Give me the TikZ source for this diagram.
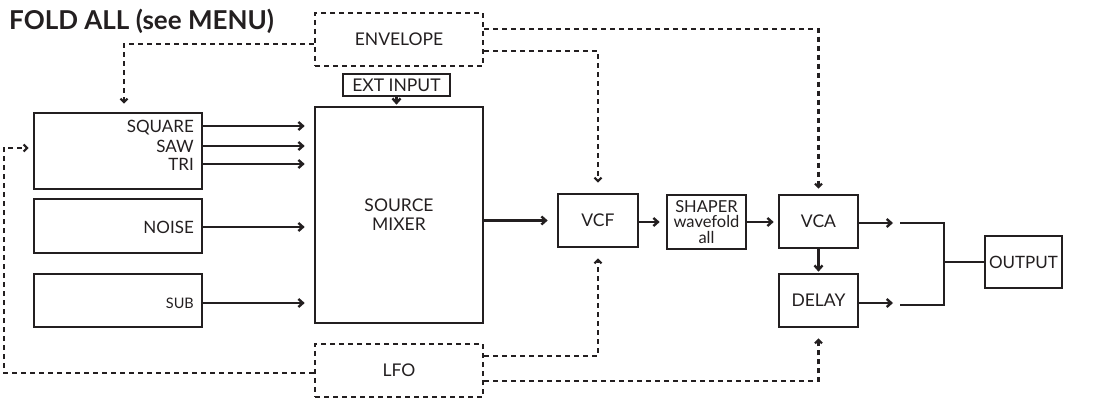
\documentclass[tikz,border=0pt]{standalone}
\usepackage{fontspec}
\setmainfont{Lato}
\usetikzlibrary{arrows.meta}
\definecolor{ink}{HTML}{231F20}
\begin{document}
\begin{tikzpicture}[x=1pt,y=-1pt,
  blk/.style={draw=ink, line width=2.6pt, inner sep=0pt, align=center, text=ink,
    font=\fontsize{17.5}{19}\selectfont},
  dblk/.style={blk, dash pattern=on 5pt off 4pt, line width=2.2pt},
  lbl/.style={inner sep=0pt, text=ink, font=\fontsize{17}{18}\selectfont, text depth=0pt},
  arr/.style={draw=ink, line width=2.4pt, -{Straight Barb[length=4.5pt,width=8pt]}},
  darr/.style={draw=ink, line width=2.2pt, dash pattern=on 5pt off 4pt,
    -{Straight Barb[length=3.5pt,width=7pt]}},
  ln/.style={draw=ink, line width=2.4pt}]
\useasboundingbox (0,0) rectangle (1101,398);
\node[anchor=base west, inner sep=0pt, text=ink, font=\fontsize{26}{27}\selectfont\bfseries] (title) at (9,30) {FOLD ALL (see MENU)};
% blocks
\node[blk, minimum width=168pt, minimum height=76pt] (osc) at (118,151) {};
\node[blk, minimum width=168pt, minimum height=54pt] (noise) at (118,226) {};
\node[blk, minimum width=168pt, minimum height=53pt] (sub) at (118,300.5) {};
\node[blk, minimum width=168pt, minimum height=216pt] (mix) at (399,215) {SOURCE\\MIXER};
\node[blk, minimum width=107pt, minimum height=22pt] (ext) at (396.5,85) {EXT INPUT};
\node[dblk, minimum width=168pt, minimum height=53pt] (env) at (399,39.5) {ENVELOPE};
\node[dblk, minimum width=168pt, minimum height=53pt] (lfo) at (399,370.5) {LFO};
\node[blk, minimum width=80pt, minimum height=53pt] (vcf) at (598,220.5) {VCF};
\node[blk, minimum width=79pt, minimum height=54pt, font=\fontsize{16.5}{15.5}\selectfont] (shaper) at (706.5,222) {SHAPER\\wavefold\\all};
\node[blk, minimum width=79pt, minimum height=53pt] (vca) at (818.5,221.5) {VCA};
\node[blk, minimum width=79pt, minimum height=53pt] (delay) at (818.5,300.5) {DELAY};
\node[blk, minimum width=77pt, minimum height=52pt, font=\fontsize{17}{18}\selectfont] (out) at (1023.5,262) {OUTPUT};
% labels
\node[lbl, anchor=east] (sq) at (194,126) {SQUARE};
\node[lbl, anchor=east] (saw) at (194,146) {SAW};
\node[lbl, anchor=east] (tri) at (194,164) {TRI};
\node[lbl, anchor=east] (nz) at (194,227) {NOISE};
\node[lbl, anchor=east, font=\fontsize{14.5}{15}\selectfont] (sb) at (194,303) {SUB};
% solid arrows
\draw[arr, shorten >=9pt] (sq.east -| osc.east) -- (sq.east -| mix.west);
\draw[arr, shorten >=9pt] (saw.east -| osc.east) -- (saw.east -| mix.west);
\draw[arr, shorten >=9pt] (tri.east -| osc.east) -- (tri.east -| mix.west);
\draw[arr, shorten >=9pt] (nz.east -| noise.east) -- (nz.east -| mix.west);
\draw[arr, shorten >=9pt] (sb.east -| sub.east) -- (sb.east -| mix.west);
\draw[arr, shorten >=1pt] (ext.south) -- (ext.south |- mix.north);
\draw[arr, shorten >=9pt] (mix.east |- vcf.west) -- (vcf.west);
\draw[arr, shorten >=6pt] (vcf.east |- shaper.west) -- (shaper.west);
\draw[arr, shorten >=4pt] (shaper.east) -- (shaper.east -| vca.west);
\draw[arr, shorten >=1pt] (vca.south) -- (delay.north);
% output bracket
\coordinate (a1) at (893,223);
\coordinate (a2) at (893,303);
\coordinate (j1) at (900,223);
\coordinate (j2) at (900,305);
\coordinate (jm) at (944,262);
\draw[arr] (vca.east |- a1) -- (a1);
\draw[arr] (delay.east |- a2) -- (a2);
\draw[ln] (j1) -- (j1 -| jm) -- (j2 -| jm) -- (j2);
\draw[ln] (jm) -- (out.west);
% dashed modulation
\draw[darr, shorten >=8pt] ([yshift=-4.5pt]env.west) -| ([xshift=6pt]osc.north);
\draw[darr, shorten >=5pt] ([yshift=10.5pt]env.east) -| (vca.north);
\draw[darr, shorten >=10pt] ([yshift=-11.5pt]env.east) -| (vcf.north);
\draw[darr, shorten >=4pt] ([yshift=-2.5pt]lfo.west) -| ([xshift=-29pt,yshift=3pt]osc.west) -- ([yshift=3pt]osc.west);
\draw[darr, shorten >=10pt] ([yshift=14.5pt]lfo.east) -| (vcf.south);
\draw[darr, shorten >=10pt] ([yshift=-10.5pt]lfo.east) -| (delay.south);
\end{tikzpicture}
\end{document}
